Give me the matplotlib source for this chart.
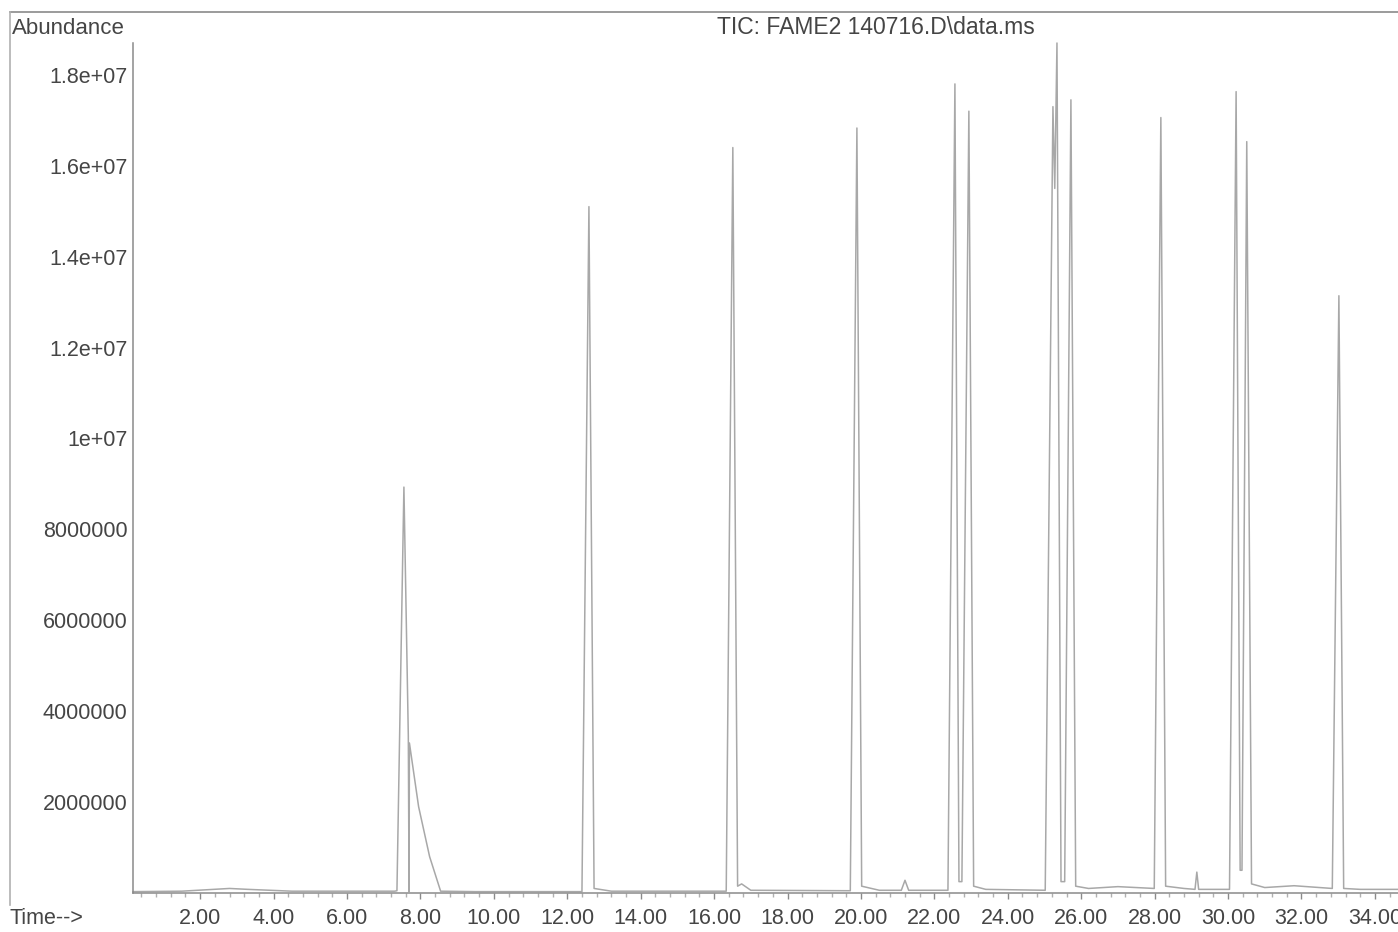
import matplotlib
matplotlib.use('Agg')
import matplotlib.pyplot as plt
from matplotlib.ticker import FixedLocator, FixedFormatter, MultipleLocator
from matplotlib.lines import Line2D


# TIC trace: retention time (min) and abundance (millions)
time_min = [0.17, 1.50, 2.80, 3.30, 4.50, 7.30,
            7.36, 7.55, 7.67, 7.69, 7.70, 7.95, 8.25, 8.55,
            9.50, 12.40, 12.59, 12.73, 13.20,
            16.33, 16.51, 16.64, 16.75, 17.00,
            19.71, 19.89, 20.02, 20.50,
            21.10, 21.20, 21.30,
            22.37, 22.56, 22.67, 22.75, 22.94, 23.07, 23.40,
            25.02, 25.23, 25.28, 25.34, 25.45, 25.55, 25.72, 25.85, 26.20,
            27.00, 27.99, 28.17, 28.30, 28.80,
            29.10, 29.15, 29.20,
            30.04, 30.22, 30.33, 30.38, 30.51, 30.64, 31.00,
            31.80, 32.84, 33.02, 33.15, 33.60, 34.63]
abundance_m = [0.03, 0.04, 0.10, 0.08, 0.04, 0.04,
               0.05, 8.93, 3.45, 0.03, 3.30, 1.90, 0.80, 0.04,
               0.03, 0.03, 15.10, 0.10, 0.04,
               0.04, 16.40, 0.15, 0.20, 0.06,
               0.05, 16.83, 0.15, 0.06,
               0.06, 0.28, 0.06,
               0.06, 17.80, 0.25, 0.25, 17.20, 0.15, 0.08,
               0.06, 17.30, 15.50, 18.70, 0.25, 0.25, 17.45, 0.15, 0.10,
               0.14, 0.10, 17.06, 0.15, 0.10,
               0.08, 0.46, 0.08,
               0.08, 17.63, 0.50, 0.50, 16.53, 0.20, 0.12,
               0.16, 0.10, 13.14, 0.10, 0.08, 0.08]

y_ticks = [2e6, 4e6, 6e6, 8e6, 1e7, 1.2e7, 1.4e7, 1.6e7, 1.8e7]
y_labels = ['2000000', '4000000', '6000000', '8000000',
            '1e+07', '1.2e+07', '1.4e+07', '1.6e+07', '1.8e+07']
x_ticks = [2, 4, 6, 8, 10, 12, 14, 16, 18, 20, 22, 24, 26, 28, 30, 32, 34]
x_labels = ['%.2f' % t for t in x_ticks]

TEXT = '#454545'
FRAME = '#8a8a8a'
W, H = 1398, 932

plt.rcParams['font.family'] = ['Liberation Sans', 'DejaVu Sans']

fig = plt.figure(figsize=(W / 100, H / 100), dpi=100)
ax = fig.add_axes([133 / W, 1 - 893 / H, 1 - 133 / W, (893 - 43) / H])

ax.plot(time_min, [a * 1e6 for a in abundance_m], color='#a8a8a8', lw=1.1,
        clip_on=False)

ax.set_xlim(0.17, 34.63)
ax.set_ylim(0, 1.87e7)

for side in ['top', 'right']:
    ax.spines[side].set_visible(False)
for side in ['left', 'bottom']:
    ax.spines[side].set_color(FRAME)
    ax.spines[side].set_linewidth(1.1)

ax.yaxis.set_major_locator(FixedLocator(y_ticks))
ax.yaxis.set_major_formatter(FixedFormatter(y_labels))
ax.xaxis.set_major_locator(FixedLocator(x_ticks))
ax.xaxis.set_major_formatter(FixedFormatter(x_labels))
ax.xaxis.set_minor_locator(MultipleLocator(0.4))

ax.tick_params(axis='y', length=0, pad=4, labelsize=15.5, labelcolor=TEXT)
ax.tick_params(axis='x', which='major', length=4, width=1, color=FRAME,
               pad=7, labelsize=15.5, labelcolor=TEXT)
ax.tick_params(axis='x', which='minor', length=3, width=1, color='#b0b0b0')

# outer frame of the report
fig.add_artist(Line2D([10 / W, 1], [1 - 12 / H, 1 - 12 / H],
                      transform=fig.transFigure, color=FRAME, lw=1.2))
fig.add_artist(Line2D([10 / W, 10 / W], [1 - 12 / H, 1 - 905 / H],
                      transform=fig.transFigure, color='#b0b0b0', lw=1.2))

fig.text(12 / W, 1 - 28 / H, 'Abundance', fontsize=16, color=TEXT,
         ha='left', va='center')
fig.text(876 / W, 1 - 28 / H, 'TIC: FAME2 140716.D\\data.ms', fontsize=16.5,
         color=TEXT, ha='center', va='center')
fig.text(10 / W, 1 - 918 / H, 'Time-->', fontsize=15.5, color=TEXT,
         ha='left', va='center')

fig.savefig('out.png', dpi=100)
